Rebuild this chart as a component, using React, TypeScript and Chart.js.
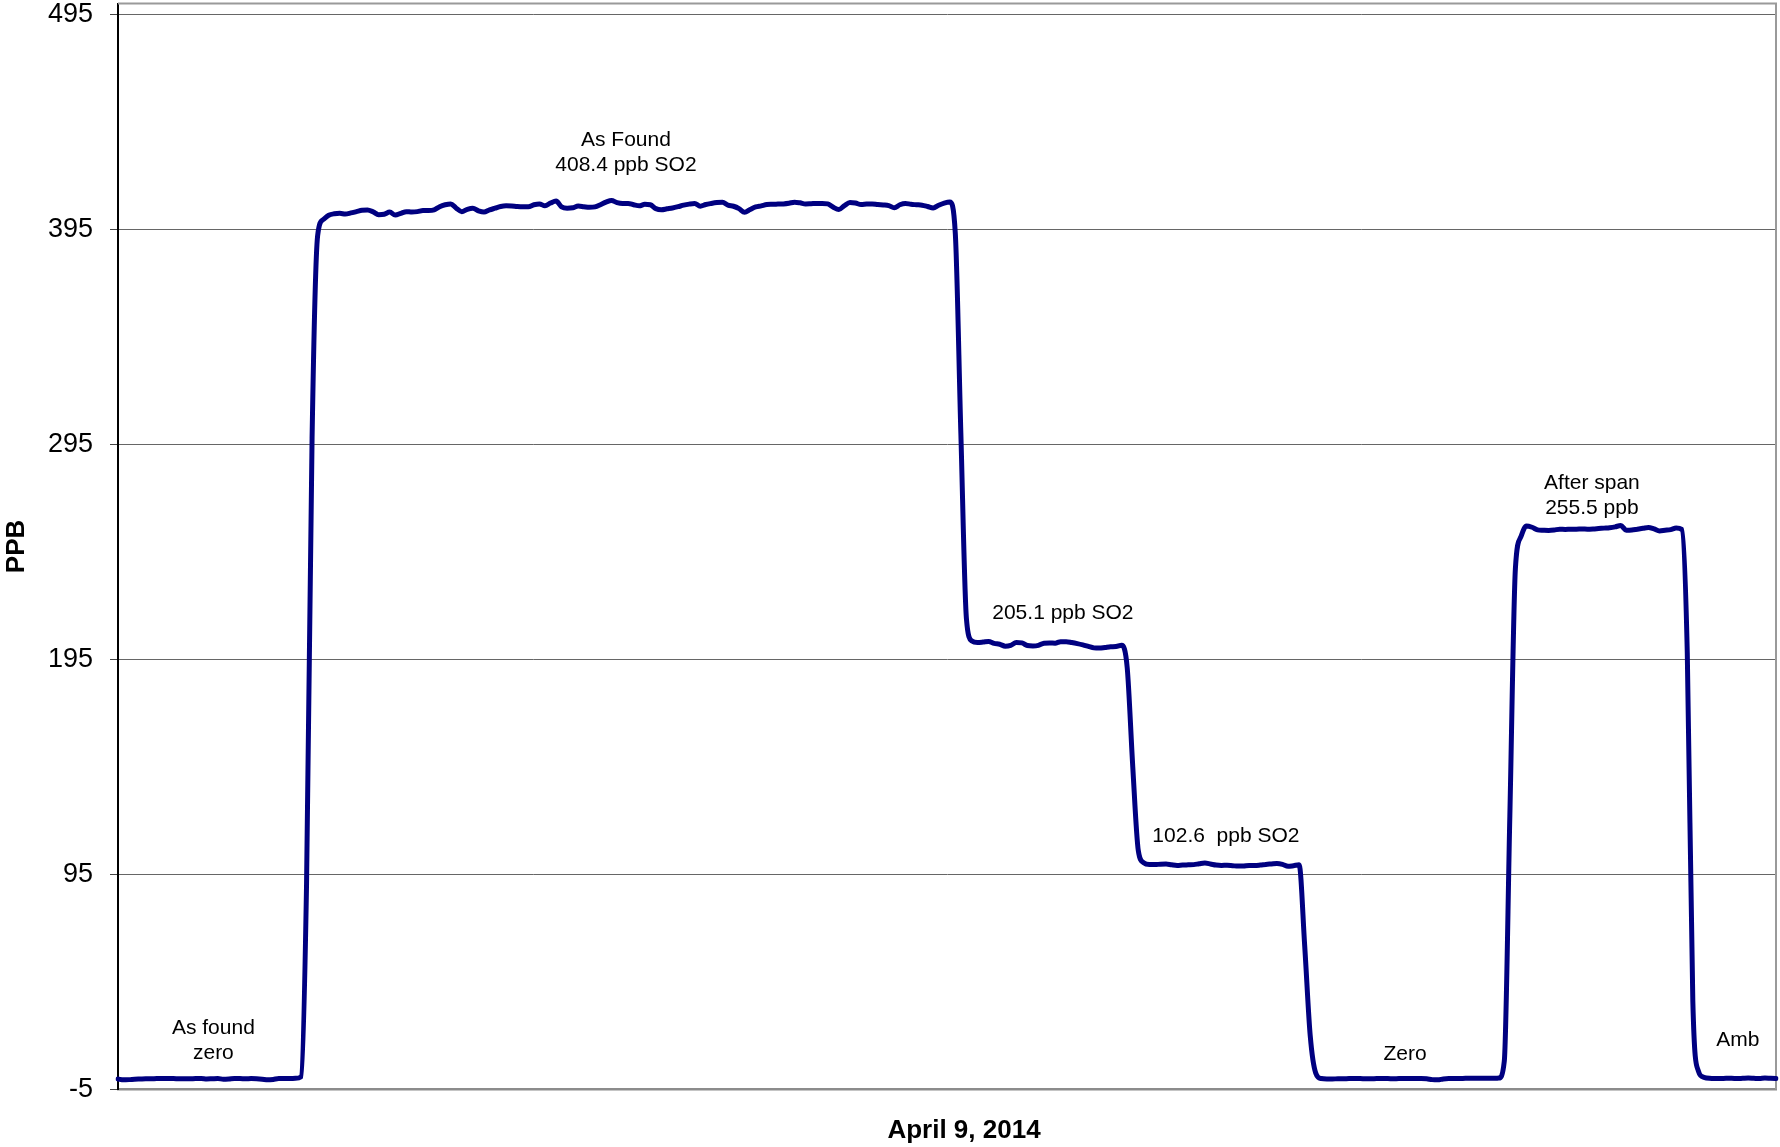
import { useEffect, useRef } from "react";
import { Chart, registerables } from "chart.js";

Chart.register(...registerables);

// ---- Data (ppb SO2, one sample per reading) ----
const asFoundZero = [
  -0.2, -0.6, -0.5, -0.3, -0.2, -0.1, -0.1, 0.0, 0.0, 0.0,
  0.0, -0.1, -0.1, -0.1, 0.0, 0.0, -0.2, -0.1, 0.0, -0.3,
  -0.2, 0.0, 0.0, -0.1, 0.0, -0.1, -0.3, -0.6, -0.4, 0.0,
  0.0, 0.0, 0.1, 0.8,
];
const riseToSpan = [90, 298, 392, 399.5];
const asFoundSpan = [
  401.5, 402.2, 402.4, 402.1, 402.6, 403.2, 403.8, 403.9, 403.1, 401.8,
  402.0, 403.0, 401.6, 402.4, 403.2, 403.0, 403.2, 403.7, 403.7, 404.0,
  405.5, 406.4, 406.8, 404.8, 403.2, 404.3, 404.8, 403.6, 403.0, 404.0,
  404.8, 405.6, 405.9, 405.8, 405.6, 405.5, 405.5, 406.4, 406.8, 405.9,
  407.2, 408.1, 405.4, 404.8, 405.0, 405.8, 405.5, 405.2, 405.4, 406.4,
  407.6, 408.4, 407.4, 407.0, 407.0, 406.4, 405.9, 406.6, 406.4, 404.6,
  404.1, 404.5, 404.9, 405.5, 406.2, 406.7, 407.0, 405.7, 406.5, 407.0,
  407.4, 407.6, 406.2, 405.7, 404.6, 402.9, 404.2, 405.4, 405.9, 406.5,
  406.6, 406.7, 406.8, 407.1, 407.6, 407.3, 406.8, 406.9, 407.0, 407.0,
  406.8, 405.2, 404.2, 406.0, 407.5, 407.2, 406.5, 406.7, 406.8, 406.5,
  406.3, 406.0, 405.0, 406.4, 407.0, 406.6, 406.4, 406.2, 405.6, 404.9,
  406.2, 407.2, 407.7,
];
const fallTo205 = [393, 300, 214, 203.5];
const point205 = [
  202.8, 203.0, 203.3, 202.4, 202.0, 201.1, 201.5, 202.8, 202.6, 201.4,
  201.2, 201.5, 202.5, 202.6, 202.5, 203.2, 203.2, 202.8, 202.3, 201.7,
  201.0, 200.3, 200.2, 200.5, 200.8, 200.9, 201.5,
];
const fallTo102 = [191, 145, 106, 100.3, 99.5];
const point102 = [
  99.5, 99.7, 99.8, 99.4, 99.1, 99.3, 99.4, 99.5, 99.9, 100.2,
  99.8, 99.3, 99.1, 99.2, 99.0, 98.8, 98.9, 99.1, 99.1, 99.3,
  99.6, 99.8, 100.0, 99.6, 98.7, 99.0, 99.4,
];
const fallToZero = [62, 20, 2.5];
const zeroCheck = [
  0.0, -0.2, -0.2, -0.1, -0.1, 0.0, 0.0, 0.0, -0.1, -0.1,
  0.0, 0.0, 0.0, -0.1, 0.0, 0.0, 0.0, 0.0, 0.0, -0.1,
  -0.5, -0.6, -0.2, 0.0, 0.0, 0.0, 0.1, 0.1, 0.1, 0.1,
  0.1, 0.1, 0.2,
];
const riseToAfterSpan = [8, 122, 237, 252, 257];
const afterSpan = [
  256.4, 255.2, 255.0, 254.9, 255.1, 255.5, 255.4, 255.5, 255.5, 255.6,
  255.5, 255.6, 255.8, 256.0, 256.2, 256.6, 257.2, 255.0, 255.1, 255.5,
  255.9, 256.3, 255.6, 254.7, 255.0, 255.3, 256.0, 255.4,
];
const fallToAmbient = [198, 36, 3.5];
const ambient = [0.6, 0.1, 0.0, 0.0, 0.1, 0.1, 0.0, 0.1, 0.2, 0.1, 0.0, 0.2, 0.1, 0.0];

const ppb: number[] = [
  ...asFoundZero, ...riseToSpan, ...asFoundSpan, ...fallTo205, ...point205,
  ...fallTo102, ...point102, ...fallToZero, ...zeroCheck, ...riseToAfterSpan,
  ...afterSpan, ...fallToAmbient, ...ambient,
];
const sampleIndex = ppb.map((_, i) => i);

const yTicks = [-5, 95, 195, 295, 395, 495];
const yMin = -5;
const yMax = 500;

const xTitle = "April 9, 2014";
const yTitle = "PPB";

// annotation text anchored at (sample index, ppb value)
const annotations = [
  { i: 91.6, v: 430.4, lines: ["As Found", "408.4 ppb SO2"] },
  { i: 170.4, v: 216.5, lines: ["205.1 ppb SO2"] },
  { i: 199.8, v: 112.5, lines: ["102.6  ppb SO2"] },
  { i: 265.8, v: 271.2, lines: ["After span", "255.5 ppb"] },
  { i: 17.2, v: 17.5, lines: ["As found", "zero"] },
  { i: 232.1, v: 11.1, lines: ["Zero"] },
  { i: 292.1, v: 18.0, lines: ["Amb"] },
];

const FONT = "'Liberation Sans', Arial, Helvetica, sans-serif";

const overlay = {
  id: "overlay",
  beforeDatasetsDraw(chart: any) {
    const { ctx, chartArea: a } = chart;
    ctx.save();
    ctx.strokeStyle = "#9a9a9a";
    ctx.lineWidth = 2;
    ctx.beginPath();
    ctx.moveTo(a.left, a.top);
    ctx.lineTo(a.right, a.top);
    ctx.lineTo(a.right, a.bottom);
    ctx.stroke();
    ctx.restore();
  },
  afterDatasetsDraw(chart: any) {
    const { ctx } = chart;
    const xs = chart.scales.x;
    const ys = chart.scales.y;
    ctx.save();
    ctx.fillStyle = "#000";
    ctx.font = `21px ${FONT}`;
    ctx.textAlign = "center";
    ctx.textBaseline = "middle";
    const lh = 25;
    for (const a of annotations) {
      const px = xs.getPixelForValue(a.i);
      const py = ys.getPixelForValue(a.v);
      const start = py - ((a.lines.length - 1) * lh) / 2;
      a.lines.forEach((t, k) => ctx.fillText(t, px, start + k * lh));
    }
    ctx.restore();
  },
  afterDraw(chart: any) {
    const { ctx } = chart;
    ctx.save();
    ctx.fillStyle = "#000";
    ctx.font = `bold 26px ${FONT}`;
    ctx.textAlign = "center";
    ctx.textBaseline = "middle";
    ctx.fillText(xTitle, 964, 1131);
    ctx.restore();
  },
};

export default function App() {
  const ref = useRef<HTMLCanvasElement>(null);

  useEffect(() => {
    const canvas = ref.current;
    if (!canvas) return;
    const chart = new Chart(canvas, {
      type: "line",
      data: {
        labels: sampleIndex,
        datasets: [
          {
            data: ppb,
            borderColor: "#000080",
            borderWidth: 5,
            pointRadius: 0,
            fill: false,
            cubicInterpolationMode: "monotone",
            borderJoinStyle: "round",
            borderCapStyle: "round",
          },
        ],
      },
      options: {
        responsive: false,
        animation: false,
        devicePixelRatio: 1,
        layout: { padding: { top: 3.5, right: 4, bottom: 0, left: 0 } },
        plugins: { legend: { display: false }, tooltip: { enabled: false } },
        scales: {
          x: {
            type: "category",
            offset: false,
            ticks: { display: false },
            grid: { display: false, drawTicks: false },
            border: { display: true, color: "#8c8c8c", width: 2.5 },
            afterFit: (s: any) => {
              s.height = 57.7;
              s.paddingLeft = 0;
              s.paddingRight = 0;
              s.paddingTop = 0;
              s.paddingBottom = 0;
            },
          },
          y: {
            min: yMin,
            max: yMax,
            afterBuildTicks: (s: any) => {
              s.ticks = yTicks.map((v) => ({ value: v }));
            },
            ticks: {
              color: "#000",
              padding: 17,
              font: { family: FONT, size: 27 },
            },
            grid: { color: "#666", lineWidth: 1, tickLength: 8, tickColor: "#444" },
            border: { color: "#000", width: 2 },
            title: {
              display: true,
              text: yTitle,
              color: "#000",
              font: { family: FONT, size: 26, weight: "bold" },
              padding: { top: 1, bottom: 0 },
            },
            afterFit: (s: any) => {
              s.width = 118;
              s.paddingTop = 0;
              s.paddingBottom = 0;
              s.paddingLeft = 0;
              s.paddingRight = 0;
            },
          },
        },
      },
      plugins: [overlay],
    } as any);
    return () => chart.destroy();
  }, []);

  return (
    <div style={{ position: "absolute", left: 0, top: 0, width: 1780, height: 1147, background: "#fff" }}>
      <canvas ref={ref} width={1780} height={1147} style={{ display: "block", width: 1780, height: 1147 }} />
    </div>
  );
}
